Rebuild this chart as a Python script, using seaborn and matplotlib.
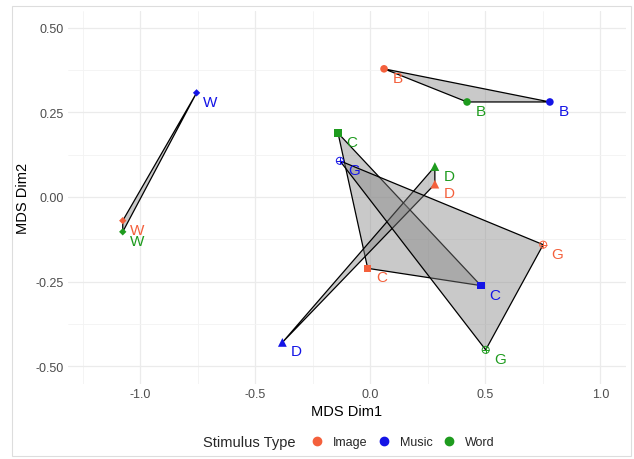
import numpy as np
import pandas as pd
import seaborn as sns
import matplotlib.pyplot as plt
from matplotlib.patches import Polygon, Rectangle
from matplotlib.lines import Line2D

sns.set_theme(style='whitegrid')
plt.rcParams['font.family'] = ['Liberation Sans', 'DejaVu Sans']

# MDS coordinates
stimulus = ['B', 'B', 'B', 'C', 'C', 'C', 'D', 'D', 'D', 'G', 'G', 'G', 'W', 'W', 'W']
stim_type = ['Image', 'Music', 'Word'] * 5
dim1 = [0.059, 0.780, 0.420, -0.012, 0.480, -0.141, 0.280, -0.383, 0.280,
        0.751, -0.133, 0.501, -1.077, -0.756, -1.077]
dim2 = [0.379, 0.281, 0.281, -0.211, -0.262, 0.189, 0.038, -0.430, 0.090,
        -0.141, 0.107, -0.452, -0.070, 0.308, -0.103]

type_names = ['Image', 'Music', 'Word']
type_colors = ['#F4603C', '#1414E6', '#1E9B1E']
palette = dict(zip(type_names, type_colors))
markers = {'B': 'o', 'C': 's', 'D': '^', 'W': 'D'}
sizes = {'B': 30, 'C': 28, 'D': 40, 'W': 14}

df = pd.DataFrame({'stimulus': stimulus, 'type': stim_type, 'dim1': dim1, 'dim2': dim2})

fig = plt.figure(figsize=(6.34, 4.6), dpi=100)
ax = fig.add_axes([68/634, 1-385/460, (626-68)/634, (385-12)/460])

# one grey triangle per stimulus
for stim, grp in df.groupby('stimulus'):
    poly = Polygon(grp[['dim1', 'dim2']].values, closed=True,
                   facecolor=(0.5, 0.5, 0.5, 0.42), edgecolor='black', lw=0.9, zorder=2)
    ax.add_patch(poly)

for stim, m in markers.items():
    sub = df[df['stimulus'] == stim]
    sns.scatterplot(data=sub, x='dim1', y='dim2', hue='type', palette=palette,
                    marker=m, s=sizes[stim], linewidth=0, legend=False, ax=ax, zorder=3)

# G drawn as circle with a plus inside
sub = df[df['stimulus'] == 'G']
cols = [palette[t] for t in sub['type']]
ax.scatter(sub['dim1'], sub['dim2'], s=26, facecolors='none', edgecolors=cols, linewidths=0.7, zorder=3)
ax.scatter(sub['dim1'], sub['dim2'], s=26, marker='+', c=cols, linewidths=0.7, zorder=3)

for _, r in df.iterrows():
    ax.annotate(r['stimulus'], (r['dim1'], r['dim2']), xytext=(14, -9), textcoords='offset pixels',
                ha='center', va='center', fontsize=11, color=palette[r['type']], zorder=4)

ax.set_xlim(-1.315, 1.111)
ax.set_ylim(-0.553, 0.55)
ax.set_xticks([-1.0, -0.5, 0.0, 0.5, 1.0])
ax.set_xticklabels(['-1.0', '-0.5', '0.0', '0.5', '1.0'])
ax.set_yticks([-0.5, -0.25, 0.0, 0.25, 0.5])
ax.set_yticklabels(['-0.50', '-0.25', '0.00', '0.25', '0.50'])
ax.set_xticks(np.arange(-1.25, 1.1, 0.5), minor=True)
ax.set_yticks([-0.375, -0.125, 0.125, 0.375], minor=True)
ax.grid(which='major', color='#EBEBEB', lw=0.9)
ax.grid(which='minor', color='#F3F3F3', lw=0.6)
ax.set_facecolor('white')
for s in ax.spines.values():
    s.set_visible(False)
ax.tick_params(axis='both', which='both', length=0, labelsize=9, colors='#4D4D4D', pad=3)
ax.set_xlabel('MDS Dim1', fontsize=10.5, color='black', labelpad=3)
ax.set_ylabel('MDS Dim2', fontsize=10.5, color='black', labelpad=4)

# legend at the bottom, title to the left
fig.text(203/634, 1-443/460, 'Stimulus Type', fontsize=10.5, ha='left', va='center')
handles = [Line2D([], [], marker='o', ls='', color=c, markersize=6) for c in type_colors]
fig.legend(handles, type_names, loc='center', bbox_to_anchor=(404/634, 1-443/460), ncol=3,
           frameon=False, fontsize=9, handlelength=0.6, handletextpad=1.0, columnspacing=1.0)

fig.patches.append(Rectangle((12/634, 1-457/460), (631-12)/634, (457-7)/460, transform=fig.transFigure,
                             fill=False, edgecolor='#DDDDDD', lw=0.8))

fig.savefig('out.png', dpi=100)
